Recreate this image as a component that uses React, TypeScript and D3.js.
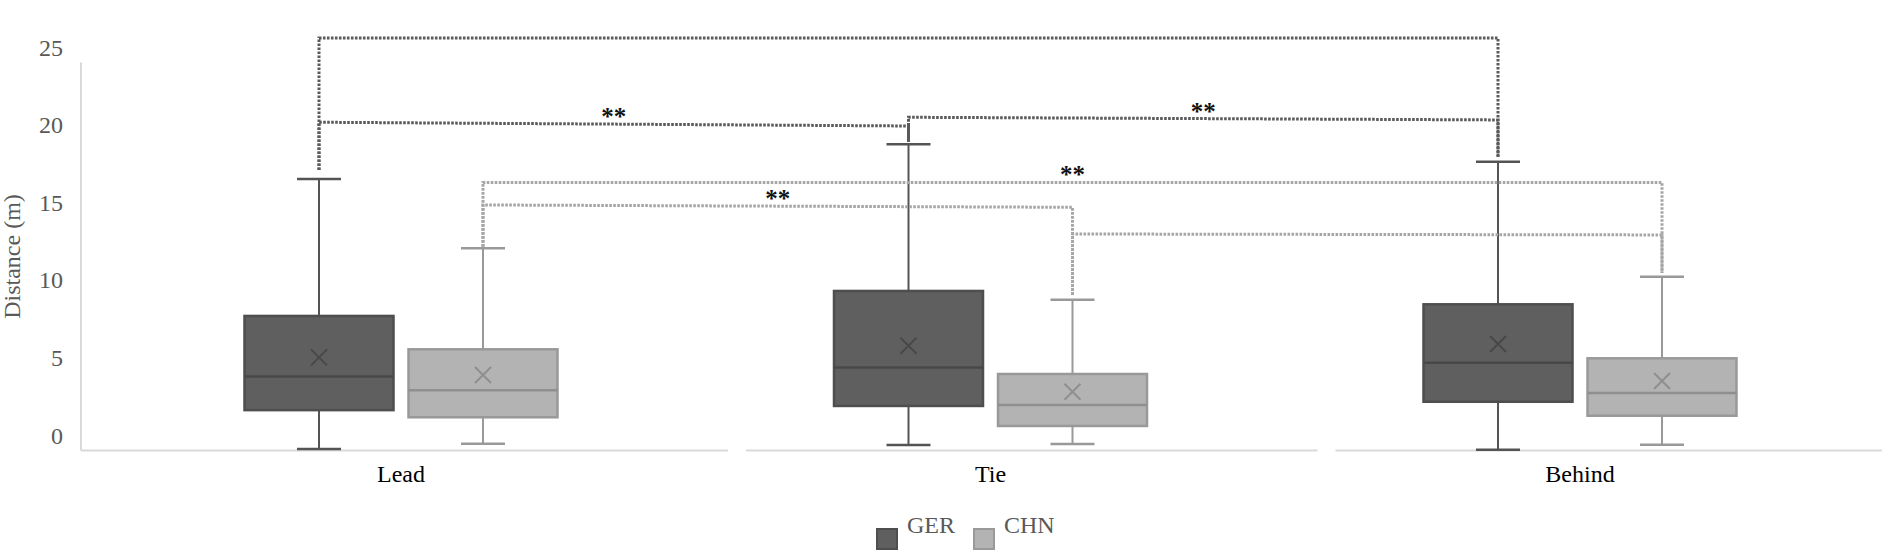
import React from "react";
import * as d3 from "d3";

// categories and series
const categories = ["Lead", "Tie", "Behind"];
const seriesNames = ["GER", "CHN"];

// box statistics (metres)
const gerMin = [0.1, 0.35, 0.05];
const gerQ1 = [2.6, 2.87, 3.14];
const gerMedian = [4.76, 5.34, 5.66];
const gerQ3 = [8.67, 10.28, 9.42];
const gerMax = [17.5, 19.73, 18.6];
const gerMean = [6.0, 6.75, 6.86];

const chnMin = [0.44, 0.42, 0.37];
const chnQ1 = [2.14, 1.58, 2.24];
const chnMedian = [3.88, 2.93, 3.7];
const chnQ3 = [6.52, 4.93, 5.94];
const chnMax = [13.03, 9.72, 11.2];
const chnMean = [4.86, 3.79, 4.48];

const yTicks = [0, 5, 10, 15, 20, 25];

// significance brackets
const bracketSeries = ["GER", "GER", "GER", "CHN", "CHN", "CHN"];
const bracketStart = ["Lead", "Lead", "Tie", "Lead", "Lead", "Tie"];
const bracketEnd = ["Behind", "Tie", "Behind", "Behind", "Tie", "Behind"];
const bracketTopStart = [26.58, 21.15, 21.47, 17.27, 15.82, 13.95];
const bracketTopEnd = [26.58, 20.91, 21.3, 17.27, 15.67, 13.89];
const bracketDropStart = [18.07, 18.07, 19.9, 13.13, 13.13, 10.02];
const bracketDropEnd = [18.93, 19.9, 18.93, 11.44, 10.02, 11.44];
const bracketLabel = ["", "**", "**", "**", "**", ""];

const W = 1904;
const H = 550;
const FONT = "'Liberation Serif', 'Times New Roman', serif";

const styles: Record<string, any> = {
  GER: { fill: "#5f5f5f", stroke: "#4e4e4e", median: "#484848", mean: "#484848", whisker: "#545454", bracket: "#5a5a5a" },
  CHN: { fill: "#b3b3b3", stroke: "#999999", median: "#8f8f8f", mean: "#8f8f8f", whisker: "#999999", bracket: "#a6a6a6" },
};

export default function App() {
  const plotLeft = 81;
  const plotRight = 1882;

  const y = d3.scaleLinear().domain([0, 25]).range([450.5, 62.5]);
  const x = d3.scalePoint<string>().domain(categories).range([401, 1580]);
  const inner = d3.scalePoint<string>().domain(seriesNames).range([-82, 82]);
  const boxW = 149;
  const capW = 44;

  const stats: Record<string, any> = {
    GER: { min: gerMin, q1: gerQ1, med: gerMedian, q3: gerQ3, max: gerMax, mean: gerMean },
    CHN: { min: chnMin, q1: chnQ1, med: chnMedian, q3: chnQ3, max: chnMax, mean: chnMean },
  };

  const cx = (cat: string, s: string) => (x(cat) as number) + (inner(s) as number);

  // baseline is broken between categories
  const gaps = categories.slice(0, -1).map((c) => (x(c) as number) + x.step() * 0.57);
  const baseSegs: number[][] = [];
  let start = plotLeft;
  gaps.forEach((g) => {
    baseSegs.push([start, g - 9]);
    start = g + 9;
  });
  baseSegs.push([start, plotRight]);

  const boxes: any[] = [];
  seriesNames.forEach((s) => {
    const st = stats[s];
    const c = styles[s];
    categories.forEach((cat, i) => {
      const xc = cx(cat, s);
      const m = 8;
      boxes.push(
        <g key={s + cat}>
          <line x1={xc} x2={xc} y1={y(st.max[i])} y2={y(st.q3[i])} stroke={c.whisker} strokeWidth={2} />
          <line x1={xc} x2={xc} y1={y(st.q1[i])} y2={y(st.min[i])} stroke={c.whisker} strokeWidth={2} />
          <line x1={xc - capW / 2} x2={xc + capW / 2} y1={y(st.max[i])} y2={y(st.max[i])} stroke={c.whisker} strokeWidth={2.5} />
          <line x1={xc - capW / 2} x2={xc + capW / 2} y1={y(st.min[i])} y2={y(st.min[i])} stroke={c.whisker} strokeWidth={2.5} />
          <rect
            x={xc - boxW / 2}
            y={y(st.q3[i])}
            width={boxW}
            height={y(st.q1[i]) - y(st.q3[i])}
            fill={c.fill}
            stroke={c.stroke}
            strokeWidth={2.5}
          />
          <line x1={xc - boxW / 2} x2={xc + boxW / 2} y1={y(st.med[i])} y2={y(st.med[i])} stroke={c.median} strokeWidth={2.5} />
          <path
            d={`M${xc - m},${y(st.mean[i]) - m}L${xc + m},${y(st.mean[i]) + m}M${xc - m},${y(st.mean[i]) + m}L${xc + m},${y(st.mean[i]) - m}`}
            stroke={c.mean}
            strokeWidth={2}
            fill="none"
          />
        </g>
      );
    });
  });

  const brackets = bracketSeries.map((s, i) => {
    const xs = cx(bracketStart[i], s);
    const xe = cx(bracketEnd[i], s);
    const d = `M${xs},${y(bracketDropStart[i])}L${xs},${y(bracketTopStart[i])}L${xe},${y(bracketTopEnd[i])}L${xe},${y(bracketDropEnd[i])}`;
    const midY = (y(bracketTopStart[i]) + y(bracketTopEnd[i])) / 2;
    return (
      <g key={"b" + i}>
        <path d={d} fill="none" stroke={styles[s].bracket} strokeWidth={3} strokeDasharray="2.6 1.4" />
        {bracketLabel[i] && (
          <text x={(xs + xe) / 2} y={midY + 1} textAnchor="middle" fontFamily={FONT} fontSize={25} fontWeight="bold" fill="#111">
            {bracketLabel[i]}
          </text>
        )}
      </g>
    );
  });

  return (
    <svg width={W} height={H} style={{ position: "absolute", left: 0, top: 0, background: "#fff" }}>
      {/* axes */}
      <line x1={plotLeft} x2={plotLeft} y1={y(25)} y2={y(0)} stroke="#d9d9d9" strokeWidth={2} />
      {baseSegs.map((sg, i) => (
        <line key={i} x1={sg[0]} x2={sg[1]} y1={y(0)} y2={y(0)} stroke="#d9d9d9" strokeWidth={2} />
      ))}
      {yTicks.map((t) => (
        <text key={t} x={63} y={y(t) - 15} textAnchor="end" dominantBaseline="central" fontFamily={FONT} fontSize={24} fill="#595959">
          {t}
        </text>
      ))}
      <text
        transform={`translate(12,${(y(0) + y(25)) / 2}) rotate(-90)`}
        textAnchor="middle"
        dominantBaseline="central"
        fontFamily={FONT}
        fontSize={24}
        fill="#595959"
      >
        Distance (m)
      </text>
      {categories.map((cat) => (
        <text key={cat} x={x(cat)} y={482} textAnchor="middle" fontFamily={FONT} fontSize={24} fill="#000">
          {cat}
        </text>
      ))}

      {boxes}
      {brackets}

      {/* legend */}
      {seriesNames.map((s, i) => (
        <g key={s} transform={`translate(${877 + i * 97},529)`}>
          <rect x={0} y={0} width={20} height={20} fill={styles[s].fill} stroke={styles[s].stroke} strokeWidth={2} />
          <text x={30} y={4} fontFamily={FONT} fontSize={24} fill="#595959">
            {s}
          </text>
        </g>
      ))}
    </svg>
  );
}
